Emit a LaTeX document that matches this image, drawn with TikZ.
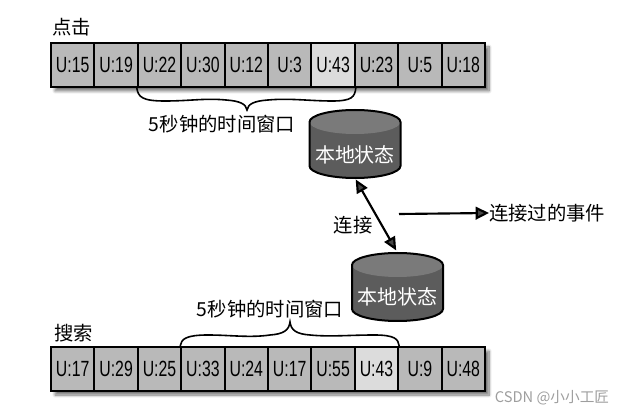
\documentclass[tikz,border=0pt]{standalone}
\usepackage{fontspec}
\setmainfont{Liberation Sans}
\newfontfamily\cjk{Noto Sans CJK SC}
\newfontfamily\cellfont[FakeStretch=0.72]{Liberation Sans}
\usetikzlibrary{arrows.meta,shadows.blur}
\definecolor{cellgray}{HTML}{B9B9B9}
\definecolor{celllight}{HTML}{DCDCDC}
\definecolor{cylbodyc}{HTML}{5C5C5C}
\definecolor{cyltopc}{HTML}{7A7A7A}
\begin{document}
\begin{tikzpicture}[x=0.75pt,y=-0.75pt,
  cellbox/.style={draw=black,line width=1.5pt,fill=cellgray,minimum width=32.55pt,minimum height=33pt,inner sep=0pt,font=\cellfont\fontsize{16.5}{16.5}\selectfont},
  lightcell/.style={cellbox,fill=celllight},
  cjklabel/.style={font=\cjk\fontsize{14.5}{14.5}\selectfont,inner sep=0pt},
  cyltext/.style={font=\cjk\fontsize{15}{15}\selectfont,text=white,inner sep=0pt},
  cylbox/.style={minimum width=68.25pt,minimum height=51pt,inner sep=0pt},
  bracestyle/.style={line width=1.2pt},
  arrowline/.style={line width=1.6pt,-{Triangle[length=10pt,width=9.5pt]}},
  dblarrow/.style={line width=1.6pt,{Triangle[length=10pt,width=9pt]}-{Triangle[length=10pt,width=9pt]}},
  dbcyl/.pic={
    \fill[cylbodyc] (-45.5,-22) -- (-45.5,22) arc[start angle=180,end angle=360,x radius=34.125pt,y radius=9pt] -- (45.5,-22) arc[start angle=0,end angle=180,x radius=34.125pt,y radius=9pt] -- cycle;
    \fill[cyltopc] (0,-22) ellipse[x radius=34.125pt,y radius=9pt];
    \draw[line width=1.5pt] (-45.5,-22) -- (-45.5,22) arc[start angle=180,end angle=360,x radius=34.125pt,y radius=9pt] -- (45.5,-22) arc[start angle=0,end angle=180,x radius=34.125pt,y radius=9pt] -- cycle;
  }]
\useasboundingbox (0,0) rectangle (637,417);

% row shadows
\path[fill=white,blur shadow={shadow xshift=3pt,shadow yshift=-3pt,shadow blur steps=10,shadow opacity=55}] (51,43) rectangle (485,87);
\path[fill=white,blur shadow={shadow xshift=3pt,shadow yshift=-3pt,shadow blur steps=10,shadow opacity=55}] (51,347) rectangle (485,391);

% top row
\node[cjklabel,anchor=west] (clk) at (52,27) {点击};
\foreach \i/\t in {1/U:15,2/U:19,3/U:22,4/U:30,5/U:12,6/U:3,8/U:23,9/U:5,10/U:18}{
  \node[cellbox] (t\i) at ({51+43.4*(\i-0.5)},65) {\t};
}
\node[lightcell] (t7) at ({51+43.4*6.5},65) {U:43};

% bottom row
\node[cjklabel,anchor=west] (srch) at (54,333) {搜索};
\foreach \i/\t in {1/U:17,2/U:29,3/U:25,4/U:33,5/U:24,6/U:17,7/U:55,9/U:9,10/U:48}{
  \node[cellbox] (b\i) at ({51+43.4*(\i-0.5)},369) {\t};
}
\node[lightcell] (b8) at ({51+43.4*7.5},369) {U:43};

% braces
\draw[bracestyle] (t3.south west) .. controls (138.2,97) and (142,101) .. (165,101) .. controls (190,101) and (205,98) .. (226,100) .. controls (240,101) and (246,104) .. (247,110) .. controls (248,104) and (254,101) .. (268,100) .. controls (290,98) and (310,101) .. (332,101) .. controls (352,101) and (354.8,97) .. (t7.south east);
\node[cjklabel] (win1) at (222,124) {5秒钟的时间窗口};

\draw[bracestyle] (b4.north west) .. controls (181.2,339) and (186,335) .. (208,335) .. controls (230,335) and (250,338) .. (270,335) .. controls (284,334) and (289,330) .. (290,322) .. controls (291,330) and (296,334) .. (310,335) .. controls (330,337) and (350,335) .. (374,335) .. controls (395,335) and (398.2,339) .. (b8.north east);
\node[cjklabel] (win2) at (270,309) {5秒钟的时间窗口};

% cylinders
\pic at (355,144) {dbcyl};
\node[cylbox] (s1) at (355,144) {};
\node[cyltext] (s1t) at (355,155) {本地状态};

\pic at (397.5,287) {dbcyl};
\node[cylbox] (s2) at (397.5,287) {};
\node[cyltext] (s2t) at (397.5,297) {本地状态};

% join arrow
\draw[dblarrow,shorten <=1pt,shorten >=2pt] (s1.south) -- (s2.north);
\node[cjklabel] (join) at (353,225) {连接};

% output arrow
\coordinate (outstart) at (399,214);
\node[cjklabel,anchor=west] (out) at (489,213) {连接过的事件};
\draw[arrowline] (outstart) -- (out.west);

% watermark
\node[font=\cjk\fontsize{11}{11}\selectfont,text=black!38,inner sep=0pt] (wm) at (552,398) {CSDN @小小工匠};
\end{tikzpicture}
\end{document}
